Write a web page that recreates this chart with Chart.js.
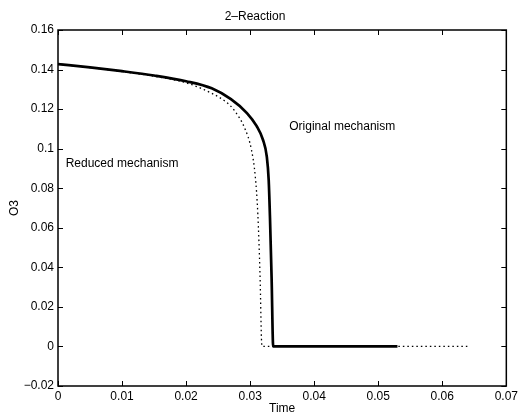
<!DOCTYPE html>
<html>
<head>
<meta charset="utf-8">
<title>2-Reaction</title>
<script src="https://cdn.jsdelivr.net/npm/chart.js@4.4.1/dist/chart.umd.min.js"></script>
<style>
  html, body { margin: 0; padding: 0; background: #fff; }
  #wrap { width: 521px; height: 415px; }
</style>
</head>
<body>
<div id="wrap"><canvas id="o3_plot" width="521" height="415"></canvas></div>
<script>
console.log('o3_reaction.js')

// original (full) mechanism, solid curve
const timeOriginal = [0, 0.005, 0.010, 0.015, 0.020, 0.024, 0.027, 0.0295, 0.031, 0.032, 0.0326, 0.0329, 0.0331, 0.03335, 0.0336, 0.040, 0.053];
const o3Original   = [0.1428, 0.1411, 0.1392, 0.1370, 0.1341, 0.1305, 0.1250, 0.1180, 0.1115, 0.1045, 0.0960, 0.0840, 0.0650, 0.0350, 0.0, 0.0, 0.0];

// reduced mechanism, dotted curve
const timeReduced = [0, 0.005, 0.010, 0.015, 0.020, 0.024, 0.0262, 0.0275, 0.0292, 0.0302, 0.0308, 0.0312, 0.03155, 0.0318, 0.0319, 0.064];
const o3Reduced   = [0.1428, 0.1410, 0.1390, 0.1366, 0.1333, 0.1280, 0.1237, 0.1195, 0.1100, 0.0995, 0.0860, 0.0670, 0.0353, 0.0016, 0.0, 0.0];

// axis ranges and tick steps
const xRange = [0, 0.07];
const xStep = 0.01;
const yRange = [-0.02, 0.16];
const yStep = 0.02;

// text labels inside the axes (data coordinates of the left edge)
const textLabels = [
    { text: 'Reduced mechanism', x: 0.0012, y: 0.0922 },
    { text: 'Original mechanism', x: 0.0361, y: 0.1109 }
];

Chart.defaults.font.family = '"Liberation Sans", Arial, Helvetica, sans-serif';
Chart.defaults.font.size = 12;
Chart.defaults.color = '#000';

function toPoints(xs, ys) {
    return xs.map((x, i) => ({ x: x, y: ys[i] }));
}

// tidy tick text: 0.1, 0, −0.02
function fmtTick(v) {
    let s = String(Number(v.toFixed(3)));
    return s.replace('-', '\u2212');
}

// box round the axes plus inward tick marks on all four sides
const boxTicks = {
    id: 'boxTicks',
    afterDraw(chart) {
        const { ctx, chartArea: a, scales } = chart;
        const len = 5;
        ctx.save();
        ctx.strokeStyle = '#000';
        ctx.lineWidth = 1;
        ctx.beginPath();
        scales.x.ticks.forEach(t => {
            const px = Math.round(scales.x.getPixelForValue(t.value)) + 0.5;
            ctx.moveTo(px, a.bottom); ctx.lineTo(px, a.bottom - len);
            ctx.moveTo(px, a.top); ctx.lineTo(px, a.top + len);
        });
        scales.y.ticks.forEach(t => {
            const py = Math.round(scales.y.getPixelForValue(t.value)) + 0.5;
            ctx.moveTo(a.left, py); ctx.lineTo(a.left + len, py);
            ctx.moveTo(a.right, py); ctx.lineTo(a.right - len, py);
        });
        ctx.stroke();
        ctx.lineWidth = 1.5;
        ctx.strokeRect(a.left, a.top, a.right - a.left, a.bottom - a.top);
        ctx.restore();
    }
};

const textNotes = {
    id: 'textNotes',
    afterDatasetsDraw(chart) {
        const { ctx, scales } = chart;
        ctx.save();
        ctx.fillStyle = '#000';
        ctx.font = '12px "Liberation Sans", Arial, sans-serif';
        ctx.textAlign = 'left';
        ctx.textBaseline = 'middle';
        textLabels.forEach(l => {
            ctx.fillText(l.text, scales.x.getPixelForValue(l.x), scales.y.getPixelForValue(l.y));
        });
        ctx.restore();
    }
};

function plotO3() {
    const config = {
        type: 'line',
        data: {
            datasets: [{
                label: 'Original mechanism',
                data: toPoints(timeOriginal, o3Original),
                borderColor: '#000',
                borderWidth: 2.7,
                pointRadius: 0,
                fill: false,
                cubicInterpolationMode: 'monotone'
            }, {
                label: 'Reduced mechanism',
                data: toPoints(timeReduced, o3Reduced),
                borderColor: '#000',
                borderWidth: 1.3,
                borderDash: [1.5, 3],
                pointRadius: 0,
                fill: false,
                cubicInterpolationMode: 'monotone'
            }]
        },
        options: {
            responsive: false,
            animation: false,
            layout: { padding: { left: 0, right: 11, top: 0, bottom: 0 } },
            plugins: {
                legend: { display: false },
                tooltip: { enabled: false },
                title: {
                    display: true,
                    text: '2\u2013Reaction',
                    color: '#000',
                    font: { size: 12, weight: 'normal' },
                    padding: { top: 9, bottom: 6.6 }
                }
            },
            scales: {
                x: {
                    type: 'linear',
                    min: xRange[0],
                    max: xRange[1],
                    grid: { display: false, drawTicks: false },
                    border: { display: false },
                    ticks: { stepSize: xStep, padding: 3, maxRotation: 0, callback: fmtTick },
                    title: { display: true, text: 'Time', font: { size: 12, lineHeight: 1 }, padding: { top: 0, bottom: 0 } },
                    afterFit: (scale) => { scale.height = 29; }
                },
                y: {
                    type: 'linear',
                    min: yRange[0],
                    max: yRange[1],
                    grid: { display: false, drawTicks: false },
                    border: { display: false },
                    ticks: { stepSize: yStep, padding: 4, callback: fmtTick },
                    title: { display: true, text: 'O3', font: { size: 12, lineHeight: 1 }, padding: { top: 9, bottom: 0 } },
                    afterFit: (scale) => { scale.width = 58; }
                }
            }
        },
        plugins: [boxTicks, textNotes]
    };
    return new Chart('o3_plot', config);
}

const chart = plotO3();
</script>
</body>
</html>
